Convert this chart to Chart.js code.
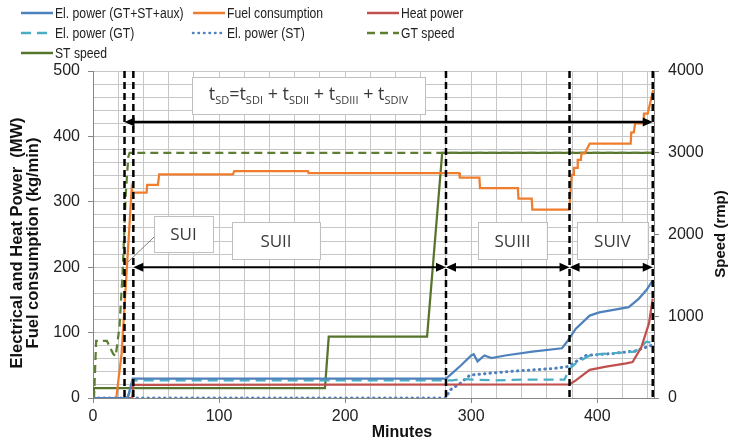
<!DOCTYPE html>
<html>
<head>
<meta charset="utf-8">
<script src="https://cdn.jsdelivr.net/npm/chart.js@4.4.1/dist/chart.umd.min.js"></script>
<style>
  html, body { margin: 0; padding: 0; background: #fff; }
</style>
</head>
<body>
<canvas id="startup" width="729" height="443"></canvas>
<script>
// 値は [分, 値] の組
const elPowerTotal = [[0,0],[27.5,0],[31.5,29.5],[280,29.5],[285,38],[292,50],[300,65],[302,67],[305,56],[310.5,65],[316,61],[327,65],[348.5,71],[372,76],[376,86],[383,106],[394,126],[401.6,131],[425,139],[433,152],[439,165],[444,180]];
const fuelConsumption = [[0,0],[18.5,0],[20,25],[22.7,68],[30.7,320],[31.5,314],[42.5,314],[43,326],[51.5,326],[52.5,342],[111,342],[112,347],[170.5,347],[171,344],[290.5,344],[291,337],[306.5,337],[307,321],[337,321],[337.5,305],[348,305],[348.5,288],[377.8,288],[379.7,341],[381,341],[381.5,352],[384,352],[384.5,364],[387,364],[387.5,374],[390,374],[394,389],[426.5,389],[427,406],[429,406],[430,420],[436.5,420],[437,435],[440,435],[444.4,471]];
const heatPower = [[0,0],[31,0],[32,20],[378,21],[383,27],[394,43],[407,48],[423,53],[428,55],[435,78],[441,114],[444,152]];
const elPowerGT = [[0,0],[27.5,0],[31.5,27],[285,27],[294,29],[305,28],[320,27],[340,28],[374,28],[378,45],[383,53],[394,65],[402,67],[430,71],[433,76],[439,86],[444,84]];
const elPowerST = [[0,0],[280,0],[283,12],[291,22],[299,35],[315,38],[333,41],[365,45],[376,48],[380,52],[391,65],[412,68],[430,72],[444,81]];
const gtSpeed = [[0,0],[0.8,0],[2.5,700],[11,700],[16,540],[18,510],[21,870],[23.5,1530],[26,2500],[28,2950],[29,3000],[445,3000]];
const stSpeed = [[0,0],[0.7,120],[184,120],[187,750],[265,750],[277,3000],[445,3000]];

const minuteLabels = [0, 100, 200, 300, 400];
const powerLabels = [0, 100, 200, 300, 400, 500];
const speedLabels = [0, 1000, 2000, 3000, 4000];

// 起動区間の境界 [分]
const phaseBounds = [25, 32, 280, 378, 444];
const phaseNames = ["SUI", "SUII", "SUIII", "SUIV"];

const FONT = "'Liberation Sans', Arial, sans-serif";
const BOXFONT = "'Open Sans', 'Liberation Sans', sans-serif";

const toXY = (arr) => arr.map(([x, y]) => ({ x, y }));

function line(label, data, color, opts) {
  return Object.assign({
    label: label,
    data: toXY(data),
    borderColor: color,
    backgroundColor: color,
    borderWidth: 2.25,
    pointRadius: 0,
    tension: 0,
    fill: false,
    yAxisID: "y",
  }, opts || {});
}

const datasets = [
  line("El. power (GT+ST+aux)", elPowerTotal, "#4F81BD"),
  line("Fuel consumption", fuelConsumption, "#F07D2E"),
  line("Heat power", heatPower, "#C0504D"),
  line("El. power (GT)", elPowerGT, "#4BACC6", { borderDash: [10, 6] }),
  line("El. power (ST)", elPowerST, "#4F81BD", { borderDash: [0.5, 5], borderWidth: 3, borderCapStyle: "round" }),
  line("GT speed", gtSpeed, "#5E7F33", { borderDash: [8, 5], yAxisID: "y1" }),
  line("ST speed", stSpeed, "#56742D", { yAxisID: "y1" }),
];

function arrowHead(ctx, x, y, dir, len, half) {
  ctx.beginPath();
  ctx.moveTo(x, y);
  ctx.lineTo(x - dir * len, y - half);
  ctx.lineTo(x - dir * len, y + half);
  ctx.closePath();
  ctx.fill();
}

function arrow(ctx, x1, x2, y, w) {
  ctx.lineWidth = w;
  ctx.beginPath();
  ctx.moveTo(x1 + 4, y);
  ctx.lineTo(x2 - 4, y);
  ctx.stroke();
  arrowHead(ctx, x1, y, -1, 10, 4.5);
  arrowHead(ctx, x2, y, 1, 10, 4.5);
}

function labelBox(ctx, x1, x2, y1, y2) {
  ctx.fillStyle = "#fff";
  ctx.fillRect(x1, y1, x2 - x1, y2 - y1);
  ctx.strokeStyle = "#BFBFBF";
  ctx.lineWidth = 1;
  ctx.strokeRect(Math.round(x1) + 0.5, Math.round(y1) + 0.5, Math.round(x2 - x1), Math.round(y2 - y1));
}

// 区間の線・矢印・ラベル
const overlay = {
  id: "overlay",
  afterDatasetsDraw(chart) {
    const { ctx, chartArea: a } = chart;
    const px = (v) => chart.scales.x.getPixelForValue(v);
    const py = (v) => chart.scales.y.getPixelForValue(v);
    ctx.save();

    ctx.strokeStyle = "#000";
    ctx.lineWidth = 2.5;
    ctx.setLineDash([7, 4]);
    phaseBounds.forEach((t) => {
      ctx.beginPath();
      ctx.moveTo(px(t), a.top);
      ctx.lineTo(px(t), a.bottom);
      ctx.stroke();
    });
    ctx.setLineDash([]);

    ctx.fillStyle = "#000";
    ctx.strokeStyle = "#000";
    arrow(ctx, px(phaseBounds[0]), px(phaseBounds[4]), py(422), 2.5);
    for (let i = 1; i < 4; i++) {
      ctx.fillStyle = "#000";
      ctx.strokeStyle = "#000";
      arrow(ctx, px(phaseBounds[i]), px(phaseBounds[i + 1]), py(200), 2);
    }

    // SUI の引き出し線
    ctx.strokeStyle = "#7F7F7F";
    ctx.lineWidth = 1;
    ctx.beginPath();
    ctx.moveTo(px(27.8), py(208));
    ctx.lineTo(px(48.4), py(246));
    ctx.stroke();

    const boxes = [
      [48.4, 95.2, 278, 223],
      [110.3, 180, 269, 212],
      [305.4, 360, 269, 212],
      [384, 440, 269, 212],
    ];
    ctx.font = "17px " + BOXFONT;
    ctx.textAlign = "center";
    ctx.textBaseline = "middle";
    boxes.forEach((b, i) => {
      const x1 = px(b[0]), x2 = px(b[1]), y1 = py(b[2]), y2 = py(b[3]);
      labelBox(ctx, x1, x2, y1, y2);
      ctx.fillStyle = "#3A3A3A";
      ctx.fillText(phaseNames[i], (x1 + x2) / 2, (y1 + y2) / 2 + 1);
    });

    // t_SD の式
    const bx1 = px(78.5), bx2 = px(263.3), by1 = py(490.8), by2 = py(434.3);
    labelBox(ctx, bx1, bx2, by1, by2);
    const parts = [["t", 0], ["SD", 1], ["=t", 0], ["SDI", 1], [" + t", 0], ["SDII", 1], [" + t", 0], ["SDIII", 1], [" + t", 0], ["SDIV", 1]];
    const big = "18px " + BOXFONT, small = "11px " + BOXFONT;
    let total = 0;
    parts.forEach(([s, sub]) => { ctx.font = sub ? small : big; total += ctx.measureText(s).width; });
    let cx = (bx1 + bx2) / 2 - total / 2;
    const base = (by1 + by2) / 2 + 5;
    ctx.textAlign = "left";
    ctx.textBaseline = "alphabetic";
    ctx.fillStyle = "#3A3A3A";
    parts.forEach(([s, sub]) => {
      ctx.font = sub ? small : big;
      ctx.fillText(s, cx, sub ? base + 4 : base);
      cx += ctx.measureText(s).width;
    });
    ctx.restore();
  },
  afterDraw(chart) {
    const { ctx } = chart;
    ctx.save();
    // 凡例
    const cols = [21, 193, 367], rows = [13, 33, 53];
    chart.data.datasets.forEach((ds, i) => {
      const x = cols[i % 3], y = rows[Math.floor(i / 3)];
      ctx.strokeStyle = ds.borderColor;
      ctx.lineWidth = 2.5;
      ctx.lineCap = ds.borderCapStyle || "butt";
      ctx.setLineDash(ds.borderDash || []);
      ctx.beginPath();
      ctx.moveTo(x, y);
      ctx.lineTo(x + 32, y);
      ctx.stroke();
      ctx.setLineDash([]);
      ctx.save();
      ctx.translate(x + 34, y);
      ctx.scale(0.87, 1);
      ctx.font = "14px " + FONT;
      ctx.fillStyle = "#222";
      ctx.textAlign = "left";
      ctx.textBaseline = "middle";
      ctx.fillText(ds.label, 0, 1);
      ctx.restore();
    });

    // 軸タイトル
    ctx.fillStyle = "#111";
    ctx.font = "bold 16px " + FONT;
    ctx.textAlign = "center";
    ctx.textBaseline = "middle";
    ctx.fillText("Minutes", 402, 433);

    ctx.save();
    ctx.translate(721, 234);
    ctx.rotate(-Math.PI / 2);
    ctx.font = "bold 15px " + FONT;
    ctx.fillText("Speed (rmp)", 0, 0);
    ctx.restore();

    ctx.save();
    ctx.translate(17, 243);
    ctx.rotate(-Math.PI / 2);
    ctx.font = "bold 16.5px " + FONT;
    ctx.fillText("Electrical and Heat Power  (MW)", 0, 0);
    ctx.fillText("Fuel consumption (kg/min)", 0, 16);
    ctx.restore();
    ctx.restore();
  },
};

const gridColor = "#C6C6C6";
const axisColor = "#868686";

new Chart(document.getElementById("startup").getContext("2d"), {
  type: "line",
  data: { datasets: datasets },
  options: {
    responsive: false,
    animation: false,
    layout: { padding: { top: 71, left: 0, right: 0, bottom: 0 } },
    plugins: { legend: { display: false }, tooltip: { enabled: false } },
    scales: {
      x: {
        type: "linear",
        min: 0,
        max: 445,
        afterBuildTicks(scale) {
          const t = [];
          for (let v = 0; v <= 440; v += 20) t.push({ value: v });
          scale.ticks = t;
        },
        afterFit(scale) { scale.height = 45; },
        ticks: {
          autoSkip: false,
          maxRotation: 0,
          padding: 4,
          color: "#222",
          font: { family: FONT, size: 16 },
          callback: (v) => (minuteLabels.includes(v) ? String(v) : ""),
        },
        grid: {
          color: gridColor,
          tickLength: 5,
          tickColor: (c) => (c.tick && minuteLabels.includes(c.tick.value) ? axisColor : "rgba(0,0,0,0)"),
        },
        border: { color: axisColor },
      },
      y: {
        position: "left",
        min: 0,
        max: 500,
        afterFit(scale) { scale.width = 93; },
        ticks: {
          stepSize: 20,
          autoSkip: false,
          padding: 8,
          color: "#222",
          font: { family: FONT, size: 16 },
          callback: (v) => (powerLabels.includes(v) ? String(v) : ""),
        },
        grid: {
          color: gridColor,
          tickLength: 5,
          tickColor: (c) => (c.tick && powerLabels.includes(c.tick.value) ? axisColor : "rgba(0,0,0,0)"),
        },
        border: { color: axisColor },
      },
      y1: {
        position: "right",
        min: 0,
        max: 4000,
        afterFit(scale) { scale.width = 75; },
        ticks: {
          stepSize: 1000,
          autoSkip: false,
          padding: 9,
          color: "#222",
          font: { family: FONT, size: 16 },
          callback: (v) => (speedLabels.includes(v) ? String(v) : ""),
        },
        grid: { drawOnChartArea: false, tickLength: 5, tickColor: axisColor },
        border: { color: axisColor },
      },
    },
  },
  plugins: [overlay],
});
</script>
</body>
</html>
